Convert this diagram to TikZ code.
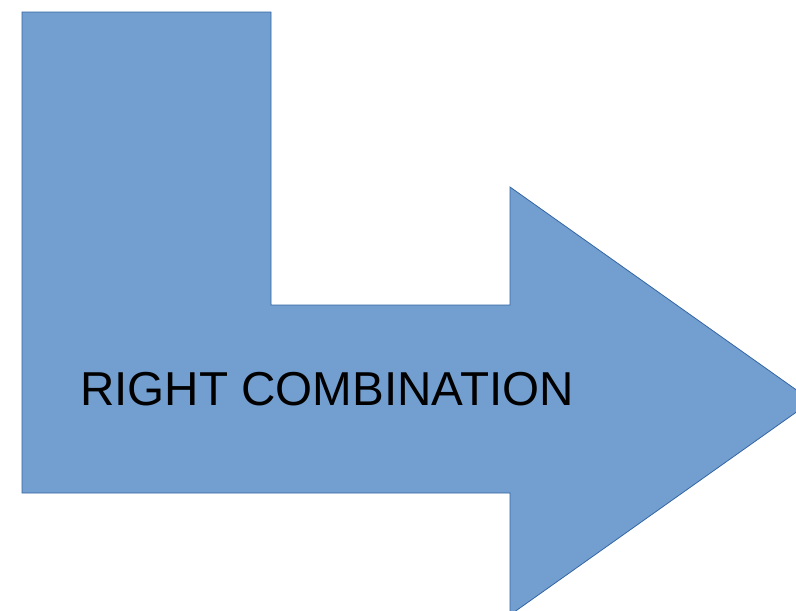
\documentclass[tikz,border=0pt]{standalone}
\usepackage{fontspec}
\setmainfont{Liberation Sans}
\definecolor{shapefill}{HTML}{729FCF}
\definecolor{shapeline}{HTML}{3465A4}
\begin{document}
\begin{tikzpicture}[x=1pt,y=-1pt,
  shapestyle/.style={fill=shapefill,draw=shapeline,line width=0.8pt,line join=miter},
  labelstyle/.style={font=\fontsize{47.6}{52}\selectfont,text=black,inner sep=0pt,anchor=base west}]
\useasboundingbox (0,0) rectangle (796,611);
\clip (0,0) rectangle (796,611);
\draw[shapestyle] (22,12) -- (271,12) -- (271,305) -- (510,305) -- (510,187)
  -- (812,401) -- (510,615) -- (510,493) -- (22,493) -- cycle;
\node[labelstyle] (lbl) at (80,405) {RIGHT COMBINATION};
\end{tikzpicture}
\end{document}
